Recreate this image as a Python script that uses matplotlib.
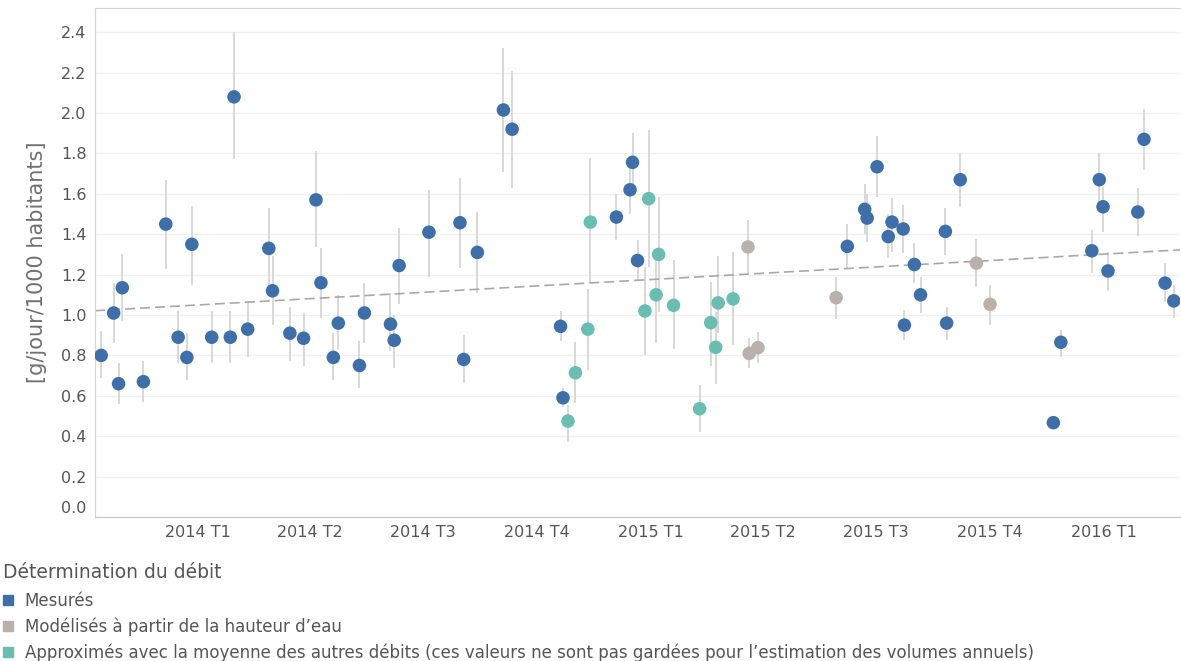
import numpy as np
import pandas as pd
import matplotlib
matplotlib.use("Agg")
import matplotlib.pyplot as plt
import matplotlib.dates as mdates
from matplotlib.lines import Line2D
from matplotlib.transforms import ScaledTranslation

plt.rcParams['font.family'] = ['DejaVu Sans']

# Mesurés
mes_dates = ["2013-10-15", "2013-10-25", "2013-11-01", "2013-10-29", "2013-11-18",
             "2013-12-06", "2013-12-16", "2013-12-23", "2013-12-27", "2014-01-12",
             "2014-01-27", "2014-01-30", "2014-02-10", "2014-02-27", "2014-03-02",
             "2014-03-16", "2014-03-27", "2014-04-06", "2014-04-10", "2014-04-20",
             "2014-04-24", "2014-05-11", "2014-05-15", "2014-06-05", "2014-06-08",
             "2014-06-12", "2014-07-06", "2014-07-31", "2014-08-03", "2014-08-14",
             "2014-09-04", "2014-09-11", "2014-10-20", "2014-10-22", "2014-12-04",
             "2014-12-15", "2014-12-17", "2014-12-21", "2015-06-08", "2015-06-22",
             "2015-06-24", "2015-07-02", "2015-07-11", "2015-07-14", "2015-07-23",
             "2015-07-24", "2015-08-01", "2015-08-06", "2015-08-26", "2015-08-27",
             "2015-09-07", "2015-11-21", "2015-11-27", "2015-12-22", "2015-12-28",
             "2015-12-31", "2016-01-04", "2016-01-28", "2016-02-02", "2016-02-19",
             "2016-02-26"]
mes_vals = [0.80, 1.01, 1.135, 0.66, 0.67, 1.45, 0.89, 0.79, 1.35, 0.89,
            0.89, 2.08, 0.93, 1.33, 1.12, 0.91, 0.885, 1.57, 1.16, 0.79,
            0.96, 0.75, 1.01, 0.955, 0.875, 1.245, 1.41, 1.457, 0.78, 1.31,
            2.015, 1.92, 0.944, 0.59, 1.485, 1.62, 1.756, 1.27, 1.34, 1.523,
            1.48, 1.734, 1.388, 1.46, 1.426, 0.95, 1.25, 1.10, 1.414, 0.96,
            1.67, 0.467, 0.865, 1.318, 1.67, 1.536, 1.218, 1.51, 1.87, 1.158,
            1.07]
mes_low = [0.69, 0.86, 0.97, 0.56, 0.57, 1.23, 0.76, 0.68, 1.15, 0.76,
           0.76, 1.77, 0.79, 1.14, 0.95, 0.77, 0.75, 1.335, 0.985, 0.68,
           0.83, 0.64, 0.86, 0.82, 0.74, 1.055, 1.19, 1.235, 0.665, 1.11,
           1.71, 1.63, 0.87, 0.546, 1.37, 1.50, 1.61, 1.17, 1.23, 1.40,
           1.36, 1.586, 1.28, 1.31, 1.305, 0.876, 1.157, 1.008, 1.297, 0.876,
           1.536, 0.467, 0.79, 1.21, 1.536, 1.41, 1.12, 1.39, 1.72, 1.066,
           0.985]
mes_high = [0.92, 1.16, 1.30, 0.76, 0.77, 1.67, 1.02, 0.91, 1.54, 1.02,
            1.02, 2.40, 1.07, 1.53, 1.29, 1.04, 1.01, 1.81, 1.33, 0.91,
            1.10, 0.87, 1.16, 1.11, 1.00, 1.43, 1.62, 1.68, 0.90, 1.51,
            2.32, 2.21, 1.02, 0.64, 1.60, 1.75, 1.90, 1.37, 1.45, 1.65,
            1.60, 1.886, 1.50, 1.58, 1.545, 1.025, 1.355, 1.19, 1.528, 1.04,
            1.80, 0.467, 0.926, 1.42, 1.80, 1.635, 1.313, 1.63, 2.02, 1.256,
            1.15]

# Modélisés à partir de la hauteur d'eau
mod_dates = ["2015-03-20", "2015-03-21", "2015-03-28", "2015-05-30", "2015-09-20", "2015-10-01"]
mod_vals = [1.337, 0.81, 0.838, 1.086, 1.257, 1.053]
mod_low = [1.21, 0.736, 0.76, 0.98, 1.137, 0.95]
mod_high = [1.47, 0.885, 0.917, 1.19, 1.375, 1.15]

# Approximés avec la moyenne des autres débits
app_dates = ["2014-10-26", "2014-11-01", "2014-11-11", "2014-11-13", "2014-12-30",
             "2014-12-27", "2015-01-07", "2015-01-05", "2015-01-19", "2015-02-09",
             "2015-02-18", "2015-02-22", "2015-02-24", "2015-03-08"]
app_vals = [0.475, 0.714, 0.93, 1.46, 1.576, 1.02, 1.30, 1.10, 1.048, 0.536,
            0.962, 0.84, 1.06, 1.08]
app_low = [0.373, 0.563, 0.73, 1.157, 1.24, 0.80, 1.016, 0.86, 0.83, 0.422,
           0.75, 0.66, 0.91, 0.85]
app_high = [0.555, 0.868, 1.127, 1.776, 1.916, 1.24, 1.586, 1.305, 1.27, 0.653,
            1.165, 1.016, 1.29, 1.31]

quarter_dates = ["2014-01-01", "2014-04-01", "2014-07-01", "2014-10-01", "2015-01-01",
                 "2015-04-01", "2015-07-01", "2015-10-01", "2016-01-01"]
quarter_labels = ["2014 T1", "2014 T2", "2014 T3", "2014 T4", "2015 T1",
                  "2015 T2", "2015 T3", "2015 T4", "2016 T1"]

series = [
    ("Mesurés", "#3f6fa8", mes_dates, mes_vals, mes_low, mes_high),
    ("Modélisés à partir de la hauteur d’eau", "#bab0ac", mod_dates, mod_vals, mod_low, mod_high),
    ("Approximés avec la moyenne des autres débits (ces valeurs ne sont pas gardées pour l’estimation des volumes annuels)",
     "#69bdb1", app_dates, app_vals, app_low, app_high),
]

fig = plt.figure(figsize=(11.81, 6.61), dpi=100)
ax = fig.add_axes([95 / 1181, (661 - 517) / 661, (1180 - 95) / 1181, (517 - 8) / 661])

# error bars first, behind the dots
for name, col, d, v, lo, hi in series:
    ax.vlines(pd.to_datetime(d), lo, hi, color="#d6d6d6", lw=1.3, zorder=1)

handles = []
for name, col, d, v, lo, hi in series:
    ax.scatter(pd.to_datetime(d), v, s=95, color=col, edgecolors="none", zorder=3)
    handles.append(Line2D([], [], marker="s", ls="", color=col, markersize=7))

# linear trend over all points
all_x = np.concatenate([mdates.date2num(pd.to_datetime(s[2])) for s in series])
all_y = np.concatenate([s[3] for s in series])
coef = np.polyfit(all_x, all_y, 1)
xmin = mdates.date2num(pd.Timestamp("2013-10-10"))
xmax = mdates.date2num(pd.Timestamp("2016-03-02"))
tx = np.array([xmin, xmax])
ax.plot(tx, np.polyval(coef, tx), color="#a8a8a8", lw=1.2, ls=(0, (6, 3)), zorder=2)

ax.set_xlim(xmin, xmax)
ax.set_ylim(0, 2.52)
ax.set_yticks(np.arange(0, 2.41, 0.2))
ax.set_yticklabels([f"{t:.1f}" for t in np.arange(0, 2.41, 0.2)])
ax.set_xticks(mdates.date2num(pd.to_datetime(quarter_dates)))
ax.set_xticklabels(quarter_labels)
ax.tick_params(axis="both", length=0, labelsize=11.5, labelcolor="#555555")
ax.tick_params(axis="y", pad=6)
ax.tick_params(axis="x", pad=6)
ax.grid(axis="y", color="#efefef", lw=0.9)
ax.set_axisbelow(True)
for side in ["left", "top"]:
    ax.spines[side].set_color("#d4d4d4")
ax.spines["bottom"].set_color("#c4c4c4")
ax.spines["right"].set_visible(False)
ax.set_ylabel("[g/jour/1000 habitants]", fontsize=15, color="#707070", labelpad=10)

# Tableau pushes the 0.0 label up inside the axis
lab0 = ax.yaxis.get_major_ticks()[0].label1
lab0.set_transform(lab0.get_transform() + ScaledTranslation(0, 10 / 100, fig.dpi_scale_trans))

leg = fig.legend(handles, [s[0] for s in series], loc="upper left",
                 bbox_to_anchor=(3 / 1181, 1 - 563 / 661), frameon=False,
                 title="Détermination du débit", title_fontsize=13.5, fontsize=12,
                 alignment="left", handlelength=0.6, handletextpad=0.7,
                 labelspacing=0.45, borderpad=0, borderaxespad=0)
leg._legend_box.sep = 7
leg.get_title().set_color("#555555")
for t in leg.get_texts():
    t.set_color("#555555")

fig.savefig("out.png", dpi=100)
